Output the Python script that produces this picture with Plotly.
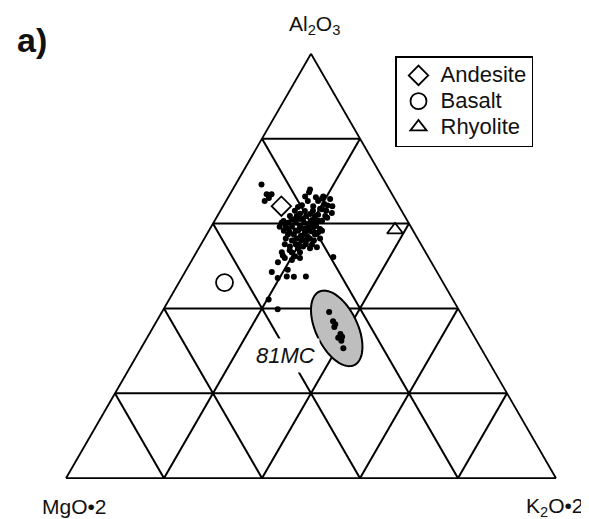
import math
import plotly.graph_objects as go

FONT = "Liberation Sans, Arial, sans-serif"
INK = "#111111"

# ---- sample cluster (Al2O3, MgO*2, K2O*2 in %) ----
cluster_al = [69.2, 66.9, 66.9, 65.3, 66.0, 66.4, 68.1, 67.4, 66.0, 66.4,
              65.7, 64.1, 62.5, 61.3, 65.3, 64.1, 63.4, 63.0, 63.0, 62.3,
              62.3, 62.0, 61.1, 61.1, 60.9, 60.6, 60.2, 60.2, 59.3, 59.5,
              59.3, 59.5, 58.3, 57.9, 58.3, 57.9, 58.1, 56.5, 56.0, 56.0,
              56.5, 54.6, 54.2, 54.2, 54.4, 53.2, 52.3, 51.9, 52.1, 49.1,
              48.6, 47.2, 47.5, 47.5, 47.5, 42.1, 39.8, 60.2, 60.2, 57.4,
              57.2, 58.8, 58.8, 55.1, 61.8, 64.6, 65.3, 61.8, 59.3, 55.1,
              56.0, 53.2, 53.2, 50.9, 63.9, 58.8, 60.2, 61.8, 60.9, 57.4,
              56.9, 56.5, 57.4, 54.6, 60.6, 61.8, 63.0, 64.4, 55.1, 51.4,
              63.0, 61.1, 59.3, 58.3, 58.3, 58.8, 56.0, 56.0, 55.1, 55.1,
              56.5, 58.3, 61.1, 63.4, 64.4, 66.2, 61.8, 60.6, 59.3, 53.7,
              52.5, 51.9, 58.3, 56.9, 57.9]
cluster_mg = [25.5, 25.6, 24.6, 26.8, 25.6, 18.0, 16.2, 16.7, 14.8, 14.3,
              13.2, 13.6, 14.5, 16.0, 15.9, 17.5, 16.4, 15.4, 19.8, 21.1,
              19.1, 17.5, 22.7, 21.1, 19.4, 17.4, 24.6, 25.9, 24.3, 22.5,
              21.0, 19.2, 26.4, 25.4, 23.5, 22.3, 20.7, 26.9, 25.5, 23.8,
              22.0, 27.0, 25.6, 23.1, 21.6, 27.3, 27.1, 29.4, 19.4, 30.2,
              33.7, 33.2, 31.2, 29.8, 27.3, 37.6, 36.9, 23.0, 21.3, 24.8,
              23.5, 25.3, 18.8, 23.5, 18.3, 15.0, 18.0, 22.0, 26.8, 25.6,
              21.4, 25.6, 29.3, 31.3, 20.7, 22.9, 20.2, 20.1, 23.5, 20.5,
              22.2, 24.6, 26.0, 24.3, 18.2, 16.2, 18.1, 19.7, 27.8, 28.2,
              21.8, 21.7, 19.8, 18.6, 23.9, 22.0, 25.9, 23.0, 24.9, 22.3,
              19.9, 21.5, 19.0, 16.0, 14.5, 15.9, 23.4, 25.3, 25.5, 27.5,
              29.5, 26.3, 21.0, 23.4, 19.6]
cluster_k = [5.3, 7.5, 8.5, 7.9, 8.4, 15.6, 15.8, 15.9, 19.3, 19.3,
             21.0, 22.3, 23.0, 22.6, 18.8, 18.4, 20.1, 21.6, 17.3, 16.6,
             18.7, 20.4, 16.2, 17.8, 19.8, 21.9, 15.2, 13.9, 16.5, 18.0,
             19.8, 21.3, 15.3, 16.7, 18.2, 19.8, 21.2, 16.6, 18.5, 20.1,
             21.6, 18.4, 20.3, 22.7, 24.0, 19.5, 20.6, 18.7, 28.5, 20.7,
             17.7, 19.6, 21.3, 22.8, 25.2, 20.3, 23.3, 16.8, 18.5, 17.8,
             19.4, 15.9, 22.5, 21.4, 19.9, 20.4, 16.7, 16.2, 14.0, 19.4,
             22.6, 21.1, 17.4, 17.8, 15.4, 18.3, 19.7, 18.1, 15.6, 22.1,
             20.9, 18.9, 16.6, 21.1, 21.1, 22.0, 18.9, 16.0, 17.1, 20.4,
             15.2, 17.2, 21.0, 23.1, 17.7, 19.2, 18.1, 21.0, 20.0, 22.7,
             23.6, 20.2, 20.5, 20.6, 21.3, 17.9, 14.8, 14.1, 15.2, 18.8,
             18.0, 21.8, 20.7, 19.7, 22.5]

# ---- 81MC samples ----
mc_al = [39.1, 37.0, 36.3, 35.6, 34.0, 33.3, 33.1, 30.6, 32.4]
mc_mg = [26.7, 27.0, 26.9, 27.4, 27.0, 27.0, 27.9, 28.1, 27.6]
mc_k = [34.1, 36.0, 36.8, 36.9, 39.0, 39.7, 39.0, 41.3, 40.0]

# ---- reference rocks ----
ref_names = ["Andesite", "Basalt", "Rhyolite"]
ref_al = [64.1, 46.1, 58.5]
ref_mg = [24.0, 44.6, 3.6]
ref_k = [11.9, 9.3, 37.9]
ref_symbols = ["diamond", "circle", "triangle-up"]
ref_sizes = [15, 17, 14]

# ---- 81MC field ellipse (centre in %, axes in % of side, tilt in degrees) ----
ell_center = (35.3, 27.1, 37.6)
ell_semi_major = 8.3
ell_semi_minor = 4.25
ell_tilt = 64.4

S3 = math.sqrt(3) / 2
ua = ell_center[2] + ell_center[0] / 2
va = ell_center[0] * S3
th = math.radians(ell_tilt)
ea, eb, ec = [], [], []
for i in range(121):
    t = 2 * math.pi * i / 120
    du = ell_semi_major * math.cos(t) * math.cos(th) - ell_semi_minor * math.sin(t) * math.sin(th)
    dv = -(ell_semi_major * math.cos(t) * math.sin(th) + ell_semi_minor * math.sin(t) * math.cos(th))
    a = (va + dv) / S3
    c = ua + du - a / 2
    ea.append(a)
    ec.append(c)
    eb.append(100 - a - c)

W, H = 581, 511  # page body adds an 8px offset


def px(x):
    return (x - 8) / W


def py(y):
    return 1 - (y - 8) / H


fig = go.Figure()
fig.add_trace(go.Scatterternary(a=ea, b=eb, c=ec, mode="lines", fill="toself",
                                fillcolor="#bebebe", line=dict(color="black", width=2),
                                showlegend=False, hoverinfo="skip"))
fig.add_trace(go.Scatterternary(a=cluster_al, b=cluster_mg, c=cluster_k, mode="markers",
                                marker=dict(color="black", size=6),
                                showlegend=False))
fig.add_trace(go.Scatterternary(a=mc_al, b=mc_mg, c=mc_k, mode="markers",
                                marker=dict(color="black", size=6),
                                showlegend=False))
for n, a, b, c, s, z in zip(ref_names, ref_al, ref_mg, ref_k, ref_symbols, ref_sizes):
    fig.add_trace(go.Scatterternary(
        a=[a], b=[b], c=[c], mode="markers",
        name='<span style="font-size:22px">' + n + "</span>",
        marker=dict(symbol=s, size=z, color="white",
                    line=dict(color="black", width=1.8))))

axis = dict(showticklabels=False, ticks="", showgrid=True, gridcolor="black",
            gridwidth=1.6, linecolor="black", linewidth=1.8, dtick=20,
            title=dict(text=""), min=0)

tri_w = 490
cx = 311
cy = 266
xd = tri_w / W
xc = (cx - 8) / W
yc = 1 - (cy - 8) / H

fig.update_layout(
    width=W, height=H,
    margin=dict(l=0, r=0, t=0, b=0),
    paper_bgcolor="white",
    font=dict(family=FONT, color=INK, size=21),
    ternary=dict(sum=100, bgcolor="white",
                 domain=dict(x=[xc - xd / 2, xc + xd / 2], y=[yc - 0.43, yc + 0.43]),
                 aaxis=axis, baxis=axis, caxis=axis),
    legend=dict(x=px(395), y=py(56), xanchor="left", yanchor="top",
                bordercolor="black", borderwidth=1.5, bgcolor="white",
                itemwidth=34,
                font=dict(size=17.5, family=FONT, color=INK), tracegroupgap=0),
    annotations=[
        dict(text="<b>a)</b>", x=px(15), y=py(40), xref="paper", yref="paper",
             xanchor="left", yanchor="middle", showarrow=False,
             font=dict(size=34, family=FONT, color=INK)),
        dict(text="Al<sub>2</sub>O<sub>3</sub>", x=px(314), y=py(25),
             xref="paper", yref="paper", xanchor="center", yanchor="middle",
             showarrow=False, font=dict(size=21, family=FONT, color=INK)),
        dict(text="MgO•2", x=px(74.5), y=py(506), xref="paper", yref="paper",
             xanchor="center", yanchor="middle", showarrow=False,
             font=dict(size=21, family=FONT, color=INK)),
        dict(text="K<sub>2</sub>O•2", x=px(555), y=py(507), xref="paper",
             yref="paper", xanchor="center", yanchor="middle", showarrow=False,
             font=dict(size=21, family=FONT, color=INK)),
        dict(text="<i>81MC</i>", x=px(285), y=py(355), xref="paper",
             yref="paper", xanchor="center", yanchor="middle", showarrow=False,
             bgcolor="white", borderpad=4,
             font=dict(size=22, family=FONT, color=INK)),
    ],
)

fig.write_html("out.html")
